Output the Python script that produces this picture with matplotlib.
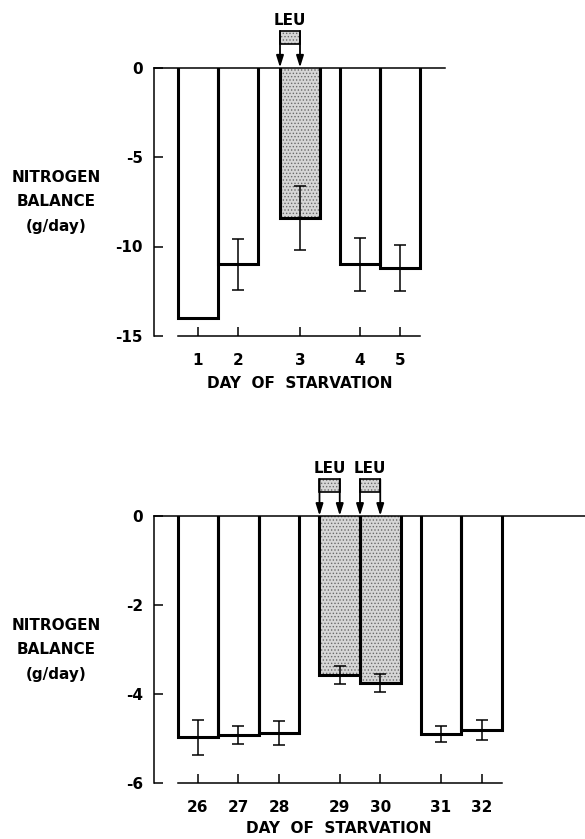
import numpy as np
import matplotlib
matplotlib.use("Agg")
import matplotlib.pyplot as plt
from matplotlib.patches import Rectangle

plt.rcParams['font.family'] = ['DejaVu Sans']
plt.rcParams['font.weight'] = 'bold'
plt.rcParams['axes.unicode_minus'] = False
plt.rcParams['hatch.linewidth'] = 0.6

# --> early starvation (days 1-5)
top_days = ['1', '2', '3', '4', '5']
top_pos = [0, 1, 2.55, 4.05, 5.05]
top_vals = [-14.0, -11.0, -8.4, -11.0, -11.2]
top_err = [0.0, 1.42, 1.8, 1.48, 1.3]
top_leu = [False, False, True, False, False]
top_yticks = [0, -5, -10, -15]

# --> late starvation (days 26-32)
bot_days = ['26', '27', '28', '29', '30', '31', '32']
bot_pos = [0, 1, 2, 3.5, 4.5, 6, 7]
bot_vals = [-4.97, -4.92, -4.87, -3.57, -3.76, -4.90, -4.80]
bot_err = [0.39, 0.21, 0.27, 0.20, 0.20, 0.18, 0.22]
bot_leu = [False, False, False, True, True, False, False]
bot_yticks = [0, -2, -4, -6]

FS = 11
STIPPLE = '#d6d6d6'
DOTS = '#6a6a6a'


def draw_panel(ax, pos, vals, err, leu, days, yticks, xlim, ax_h_px):
    pos = np.array(pos)
    vals = np.array(vals)
    err = np.array(err)
    leu = np.array(leu)

    # stippled fill for leucine days
    ax.bar(pos[leu], vals[leu], width=1.0, color=STIPPLE, hatch='.....',
           edgecolor=DOTS, linewidth=0, zorder=1)
    # outlines (sides + bottom, top lies on the zero line)
    for p, v in zip(pos, vals):
        ax.plot([p - 0.5, p - 0.5, p + 0.5, p + 0.5], [0, v, v, 0], color='black',
                lw=2.2, solid_joinstyle='miter', zorder=2)

    has_err = err > 0
    ax.errorbar(pos[has_err], vals[has_err], yerr=err[has_err], fmt='none',
                ecolor='black', elinewidth=1.1, capsize=4.5, capthick=1.1, zorder=3)

    ax.set_xlim(*xlim)
    ax.set_ylim(yticks[-1], 0)
    ax.set_yticks(yticks)
    ax.set_yticklabels([str(t) for t in yticks])
    ax.set_xticks(pos)
    ax.set_xticklabels(days)

    ax.spines['right'].set_visible(False)
    for s in ['left', 'bottom', 'top']:
        ax.spines[s].set_linewidth(1.1)
    ax.spines['bottom'].set_bounds(pos[0] - 0.5, pos[-1] + 0.5)
    ax.tick_params(axis='y', direction='in', length=6.5, width=1.1, pad=8, labelsize=FS)
    ax.tick_params(axis='x', direction='in', length=6.5, width=1.1, pad=12, labelsize=FS)

    # LEU markers above the leucine days
    trans = ax.get_xaxis_transform()
    yf = lambda px: 1 + px / ax_h_px
    for p in pos[leu]:
        x0, x1 = p - 0.5, p
        ax.add_patch(Rectangle((x0, yf(23.5)), x1 - x0, 13 / ax_h_px, transform=trans,
                               facecolor=STIPPLE, hatch='.....', edgecolor=DOTS,
                               linewidth=0, clip_on=False))
        ax.add_patch(Rectangle((x0, yf(23.5)), x1 - x0, 13 / ax_h_px, transform=trans,
                               facecolor='none', edgecolor='black',
                               linewidth=1.2, clip_on=False))
        for x in (x0, x1):
            ax.annotate('', xy=(x, 1.0), xytext=(x, yf(36.5)), xycoords=trans,
                        textcoords=trans,
                        arrowprops=dict(arrowstyle='-|>,head_width=0.22,head_length=0.7',
                                        color='black', lw=1.3, shrinkA=0, shrinkB=0))
        ax.text((x0 + x1) / 2, yf(47.5), 'LEU', transform=trans, ha='center',
                va='center', fontsize=FS, fontweight='bold')


fig = plt.figure(figsize=(5.85, 8.39), dpi=100)

ax_top = fig.add_axes([154 / 585, 1 - 336 / 839, 291 / 585, 268.5 / 839])
draw_panel(ax_top, top_pos, top_vals, top_err, top_leu, top_days, top_yticks,
           (-1.1, 6.175), 268.5)
ax_top.set_xlabel('DAY  OF  STARVATION', fontsize=FS, fontweight='bold')
ax_top.xaxis.set_label_coords((300 - 154) / 291, (336 - 376) / 268.5)

ax_bot = fig.add_axes([154 / 585, 1 - 783.3 / 839, 431 / 585, 267.6 / 839])
draw_panel(ax_bot, bot_pos, bot_vals, bot_err, bot_leu, bot_days, bot_yticks,
           (-1.086, 9.555), 267.6)
ax_bot.set_xlabel('DAY  OF  STARVATION', fontsize=FS, fontweight='bold')
ax_bot.xaxis.set_label_coords((339 - 154) / 431, (783.3 - 821) / 267.6)

for yc in (202, 650):
    fig.text(56 / 585, 1 - yc / 839, 'NITROGEN\nBALANCE\n(g/day)', ha='center',
             va='center', multialignment='center', fontsize=FS, fontweight='bold',
             linespacing=1.75)

fig.savefig('out.png', dpi=100)
